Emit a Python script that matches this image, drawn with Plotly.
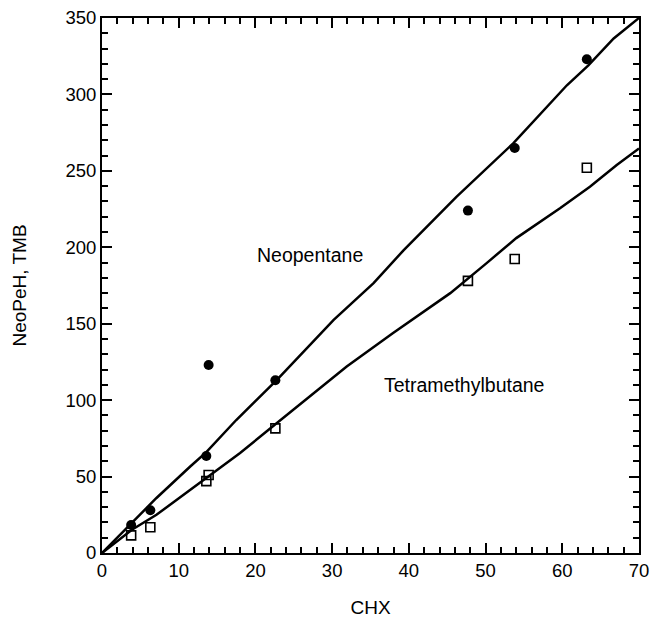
import plotly.graph_objects as go

# Data
neo_pts_x = [3.8, 6.3, 13.6, 13.9, 22.6, 47.7, 53.8, 63.2]
neo_pts_y = [18.3, 28, 63.5, 123, 113, 224, 265, 323]

tmb_pts_x = [3.8, 6.3, 13.6, 13.9, 22.6, 47.7, 53.8, 63.2]
tmb_pts_y = [11.5, 16.8, 47, 51, 81.5, 178, 192.3, 252]

neo_line_x = [0, 3.9, 7.1, 11.5, 13.6, 17.5, 22.8, 30.2, 35.4, 39.3, 43.2, 46.2, 53.6, 60.6, 63.4, 66.7, 70]
neo_line_y = [0, 19.6, 36, 56.6, 66, 87, 113.3, 152.5, 176.5, 198, 218, 233, 268, 306, 319, 336.6, 350]

tmb_line_x = [0, 3.9, 7.1, 11.5, 13.6, 18, 22.8, 31.9, 37.9, 42.3, 45.4, 50.1, 54, 59.7, 63.6, 67.1, 70]
tmb_line_y = [0, 15.2, 25, 41.4, 49, 65.4, 85, 122, 143.8, 159, 170, 189.5, 206, 225.5, 239.6, 253.8, 264.7]

FONT = "Liberation Sans, Arial, Helvetica, sans-serif"

fig = go.Figure()
fig.add_trace(go.Scatter(x=neo_line_x, y=neo_line_y, mode="lines",
                         line=dict(color="black", width=2.5), showlegend=False))
fig.add_trace(go.Scatter(x=tmb_line_x, y=tmb_line_y, mode="lines",
                         line=dict(color="black", width=2.5), showlegend=False))
fig.add_trace(go.Scatter(x=neo_pts_x, y=neo_pts_y, mode="markers",
                         marker=dict(symbol="circle", size=10, color="black"),
                         showlegend=False))
fig.add_trace(go.Scatter(x=tmb_pts_x, y=tmb_pts_y, mode="markers",
                         marker=dict(symbol="square-open", size=9, color="black",
                                     line=dict(width=1.6, color="black")),
                         showlegend=False))

fig.add_annotation(x=27.1, y=195, text="Neopentane", showarrow=False,
                   font=dict(size=19.5, color="black", family=FONT))
fig.add_annotation(x=47.2, y=110, text="Tetramethylbutane", showarrow=False,
                   font=dict(size=19.5, color="black", family=FONT))

axis_common = dict(showgrid=False, zeroline=False, showline=True, linecolor="black",
                   linewidth=2, mirror="ticks", ticks="inside", ticklen=10,
                   tickwidth=2, tickcolor="black", automargin=False,
                   tickfont=dict(size=18.5, color="black", family=FONT))

fig.update_xaxes(range=[0, 70], tick0=0, dtick=10,
                 minor=dict(ticks="inside", dtick=2, ticklen=6, tickwidth=1.5, tickcolor="black"),
                 title=dict(text="CHX", font=dict(size=19, color="black", family=FONT), standoff=20),
                 **axis_common)
fig.update_yaxes(range=[0, 350], tick0=0, dtick=50,
                 minor=dict(ticks="inside", dtick=10, ticklen=6, tickwidth=1.5, tickcolor="black"),
                 title=dict(text="NeoPeH, TMB", font=dict(size=19, color="black", family=FONT), standoff=34),
                 **axis_common)

fig.update_layout(template="none", width=650, height=620,
                  plot_bgcolor="white", paper_bgcolor="white",
                  margin=dict(l=102, r=11, t=18, b=67))

fig.write_html("out.html", config={"displayModeBar": False},
               post_script="document.body.style.margin='0';")
